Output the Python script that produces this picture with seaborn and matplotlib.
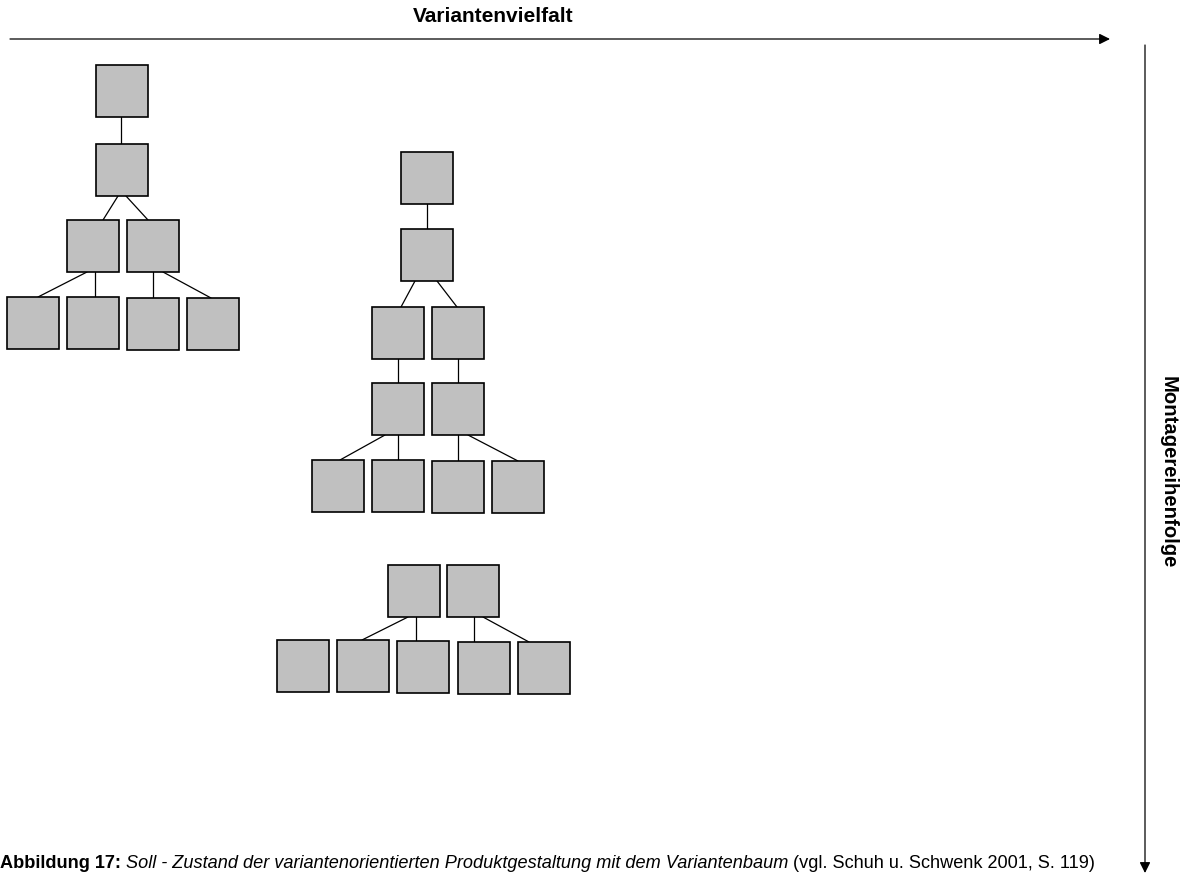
import matplotlib
matplotlib.use("Agg")
import matplotlib.pyplot as plt
from matplotlib.patches import Rectangle
import seaborn as sns

sns.set_style("white")
plt.rcParams['font.family'] = ['Liberation Sans', 'DejaVu Sans']
plt.rcParams['text.color'] = 'black'

# box top-left corners (pixel units of the original figure)
box_left = [96, 96, 67, 127, 7, 67, 127, 187,
            401, 401, 372, 432, 372, 432, 312, 372, 432, 492,
            388, 447, 277, 337, 397, 458, 518]
box_top = [65, 144, 220, 220, 297, 297, 298, 298,
           152, 229, 307, 307, 383, 383, 460, 460, 461, 461,
           565, 565, 640, 640, 641, 642, 642]
box_size = 52

# connector lines between boxes
link_x1 = [121, 118, 126, 87, 95, 153, 163,
           427, 415, 437, 398, 458, 385, 398, 458, 468,
           408, 416, 474, 483]
link_y1 = [117, 196, 196, 272, 272, 272, 272,
           204, 281, 281, 359, 359, 435, 435, 435, 435,
           617, 617, 617, 617]
link_x2 = [121, 103, 148, 38, 95, 153, 211,
           427, 401, 457, 398, 458, 340, 398, 458, 518,
           362, 416, 474, 529]
link_y2 = [144, 220, 220, 297, 297, 298, 298,
           229, 307, 307, 383, 383, 460, 460, 461, 461,
           640, 641, 642, 642]

fig = plt.figure(figsize=(11.93, 8.75), dpi=100)
ax = fig.add_axes([0, 0, 1, 1])
ax.set_xlim(0, 1193)
ax.set_ylim(875, 0)
ax.axis("off")

for x1, y1, x2, y2 in zip(link_x1, link_y1, link_x2, link_y2):
    ax.plot([x1, x2], [y1, y2], color="black", lw=0.9, zorder=1)

for x, y in zip(box_left, box_top):
    ax.add_patch(Rectangle((x, y), box_size, box_size, facecolor="#c0c0c0",
                           edgecolor="black", lw=1.2, zorder=2))

# axes arrows
ax.annotate("", xy=(1110, 39), xytext=(10, 39),
            arrowprops=dict(arrowstyle="-|>", color="black", lw=0.9,
                            mutation_scale=16, shrinkA=0, shrinkB=0))
ax.annotate("", xy=(1145, 873), xytext=(1145, 45),
            arrowprops=dict(arrowstyle="-|>", color="black", lw=0.9,
                            mutation_scale=16, shrinkA=0, shrinkB=0))
ax.text(493, 17, "Variantenvielfalt", ha="center", va="center",
        fontsize=15, fontweight="bold")
ax.text(1168, 472, "Montagereihenfolge", ha="center", va="center",
        fontsize=14.6, fontweight="bold", rotation=-90)

# caption with mixed styles
renderer = fig.canvas.get_renderer()
parts = [("Abbildung 17: ", dict(fontweight="bold")),
         ("Soll - Zustand der variantenorientierten Produktgestaltung mit dem Variantenbaum",
          dict(fontstyle="italic")),
         (" (vgl. Schuh u. Schwenk 2001, S. 119)", dict())]
xpos = 0
for txt, kw in parts:
    t = ax.text(xpos, 868, txt, ha="left", va="baseline", fontsize=13.1, **kw)
    bb = t.get_window_extent(renderer=renderer)
    xpos = ax.transData.inverted().transform((bb.x1, bb.y0))[0]

fig.savefig("out.png", dpi=100)
